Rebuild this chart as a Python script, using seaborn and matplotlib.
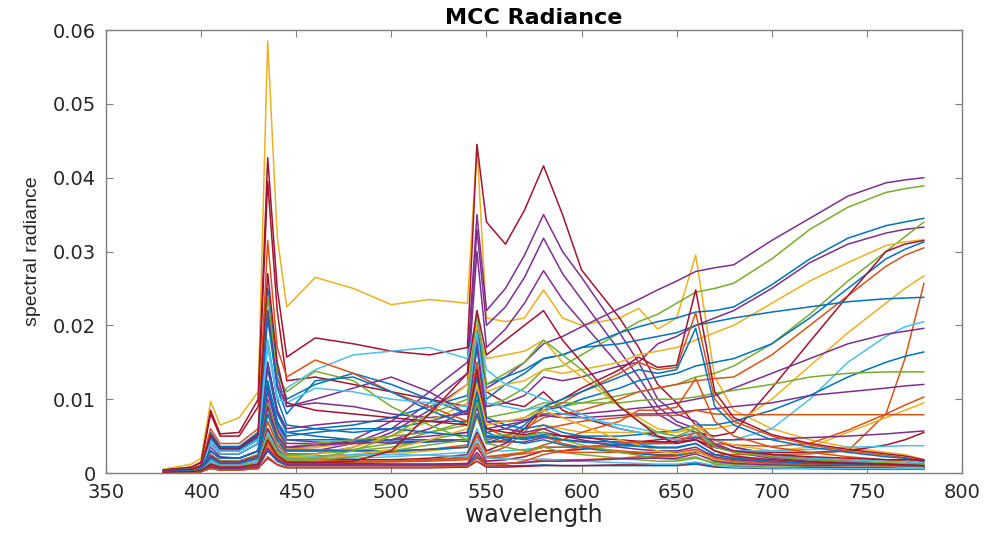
import matplotlib
matplotlib.use("Agg")
import matplotlib.pyplot as plt
import seaborn as sns
import pandas as pd
import numpy as np

# wavelength grid (nm) and spectral radiance curves, values in units of 1e-3
wavelength = [380, 395, 400, 405, 410, 420, 430, 435, 440, 445,
              460, 480, 500, 520, 540, 545, 550, 560, 570, 580,
              590, 600, 620, 630, 640, 650, 660, 670, 680, 700,
              720, 740, 760, 770, 780]

rad_01 = [0.5, 1.2, 2.0, 9.7, 6.5, 7.5, 11.0, 58.5, 32.0, 22.5, 26.5, 25.0, 22.8, 23.5, 23.0, 44.5, 21.0, 20.5, 21.0, 24.8, 21.0, 20.0, 21.0, 22.3, 19.5, 21.0, 29.5, 13.0, 8.5, 6.0, 4.5, 3.5, 2.8, 2.5, 1.8]
rad_02 = [0.4, 0.8, 1.5, 8.5, 5.3, 5.5, 10.0, 42.7, 25.0, 15.7, 18.3, 17.5, 16.5, 16.0, 17.0, 44.5, 34.0, 31.0, 35.6, 41.6, 35.0, 27.5, 21.0, 17.0, 12.0, 9.5, 6.5, 4.5, 3.5, 2.5, 2.0, 1.6, 1.3, 1.2, 1.0]
rad_03 = [0.4, 0.8, 1.4, 8.0, 5.0, 5.0, 9.0, 39.5, 22.0, 12.5, 13.0, 12.0, 11.0, 10.0, 9.0, 20.0, 11.0, 9.5, 9.0, 11.0, 8.5, 7.5, 6.0, 5.5, 5.0, 4.5, 5.0, 3.5, 3.0, 2.8, 2.8, 3.0, 3.8, 4.5, 5.5]
rad_04 = [0.2, 0.4, 0.6, 3.0, 2.0, 2.0, 3.0, 12.0, 6.0, 3.5, 3.5, 4.5, 7.0, 11.0, 15.0, 35.0, 22.0, 25.0, 29.5, 35.0, 30.0, 26.5, 19.0, 15.0, 10.0, 8.0, 7.0, 4.5, 3.5, 2.5, 2.0, 1.6, 1.3, 1.2, 1.0]
rad_05 = [0.2, 0.3, 0.5, 2.5, 1.6, 1.6, 2.5, 10.0, 5.0, 3.0, 3.0, 4.0, 6.0, 9.5, 13.5, 33.0, 20.0, 22.5, 26.5, 31.8, 27.0, 23.5, 16.5, 13.0, 9.0, 7.0, 6.0, 4.0, 3.0, 2.2, 1.8, 1.4, 1.2, 1.1, 0.9]
rad_06 = [0.2, 0.3, 0.5, 2.2, 1.4, 1.4, 2.2, 9.0, 4.5, 2.6, 2.6, 3.5, 5.5, 8.5, 12.0, 30.0, 17.0, 19.5, 23.0, 27.4, 23.5, 20.5, 14.5, 11.5, 8.0, 6.5, 5.5, 3.8, 2.8, 2.0, 1.6, 1.3, 1.1, 1.0, 0.8]
rad_07 = [0.2, 0.4, 0.7, 3.5, 2.2, 2.0, 3.0, 12.0, 7.0, 4.5, 4.2, 4.0, 4.5, 6.0, 8.5, 18.0, 11.5, 13.0, 15.0, 17.5, 18.5, 19.8, 22.3, 23.5, 24.8, 26.0, 27.3, 27.8, 28.2, 31.5, 34.5, 37.5, 39.3, 39.7, 40.0]
rad_08 = [0.2, 0.3, 0.5, 2.5, 1.5, 1.5, 2.2, 8.0, 4.5, 3.0, 3.0, 3.2, 4.0, 5.5, 7.0, 15.0, 9.0, 10.0, 11.5, 14.0, 14.5, 16.0, 19.0, 20.5, 21.5, 23.0, 24.5, 25.0, 25.7, 29.0, 33.0, 36.0, 38.0, 38.5, 38.9]
rad_09 = [0.3, 0.5, 0.9, 4.5, 3.0, 3.0, 4.5, 18.0, 10.0, 6.5, 6.0, 5.5, 6.0, 7.0, 8.5, 18.0, 10.0, 12.0, 13.5, 15.5, 16.0, 17.0, 19.0, 19.8, 20.5, 21.0, 21.8, 22.0, 22.5, 25.5, 29.0, 31.8, 33.5, 34.0, 34.5]
rad_10 = [0.3, 0.6, 1.0, 5.0, 3.3, 3.3, 5.5, 22.0, 13.0, 9.0, 9.5, 9.0, 8.0, 7.5, 8.0, 17.0, 9.0, 9.5, 10.5, 13.0, 12.5, 13.0, 14.5, 15.0, 17.5, 18.5, 20.0, 21.0, 22.0, 25.0, 28.5, 31.0, 32.5, 33.0, 33.3]
rad_11 = [0.2, 0.3, 0.4, 2.0, 1.3, 1.3, 2.0, 7.0, 4.0, 2.5, 2.6, 3.0, 3.5, 4.5, 5.5, 11.0, 6.5, 7.0, 7.5, 9.0, 9.0, 9.5, 10.5, 11.0, 11.5, 12.0, 13.0, 13.5, 14.5, 17.5, 21.5, 26.0, 30.0, 32.0, 34.0]
rad_12 = [0.2, 0.3, 0.5, 2.5, 1.6, 1.6, 2.5, 9.0, 5.0, 3.2, 3.5, 4.0, 5.0, 7.0, 9.5, 17.0, 11.0, 12.0, 12.5, 14.0, 13.5, 14.0, 15.0, 16.0, 16.5, 17.0, 18.0, 19.0, 20.0, 23.0, 26.0, 28.5, 30.8, 31.3, 31.6]
rad_13 = [0.3, 0.5, 0.8, 4.0, 2.6, 2.6, 4.0, 15.0, 8.5, 5.5, 5.0, 4.5, 4.0, 4.2, 4.5, 10.0, 5.5, 6.0, 7.0, 8.5, 9.0, 10.0, 11.5, 12.5, 13.0, 13.5, 14.5, 15.0, 15.5, 17.5, 21.0, 25.0, 29.0, 30.3, 31.3]
rad_14 = [0.2, 0.3, 0.5, 2.2, 1.4, 1.4, 2.0, 7.0, 3.8, 2.3, 2.3, 2.5, 2.8, 3.2, 3.8, 8.0, 4.5, 5.0, 6.0, 7.5, 8.0, 8.5, 10.0, 11.0, 11.5, 12.0, 12.5, 12.8, 13.0, 16.0, 20.0, 24.0, 28.0, 29.5, 30.5]
rad_15 = [0.1, 0.2, 0.3, 1.2, 0.8, 0.8, 1.0, 4.0, 2.2, 1.5, 1.4, 1.3, 1.2, 1.2, 1.3, 3.5, 1.6, 1.8, 2.2, 3.0, 3.0, 3.2, 3.8, 4.2, 4.5, 4.8, 5.5, 5.0, 5.5, 11.5, 17.8, 24.0, 30.0, 31.0, 31.5]
rad_16 = [0.2, 0.3, 0.4, 1.8, 1.2, 1.2, 1.8, 6.0, 3.5, 2.2, 2.2, 2.3, 2.5, 3.0, 3.5, 7.5, 4.0, 4.5, 5.0, 6.5, 6.0, 5.5, 5.5, 5.5, 5.5, 5.5, 6.0, 6.0, 6.5, 10.0, 14.5, 19.0, 23.0, 25.0, 26.7]
rad_17 = [0.1, 0.2, 0.3, 1.0, 0.7, 0.7, 0.9, 3.0, 1.8, 1.2, 1.2, 1.1, 1.0, 1.0, 1.0, 2.5, 1.2, 1.3, 1.4, 1.8, 1.8, 1.8, 2.0, 2.2, 2.2, 2.3, 2.8, 2.5, 2.5, 2.5, 2.6, 3.0, 8.0, 15.5, 25.7]
rad_18 = [0.3, 0.5, 0.8, 4.0, 2.6, 2.6, 4.0, 14.0, 8.0, 5.5, 6.0, 6.5, 7.5, 9.0, 10.5, 20.0, 12.0, 13.0, 14.0, 15.5, 16.0, 17.0, 17.5, 18.0, 18.5, 19.0, 20.0, 20.5, 21.0, 21.8, 22.5, 23.2, 23.6, 23.7, 23.8]
rad_19 = [0.2, 0.3, 0.4, 1.8, 1.2, 1.2, 1.8, 6.0, 3.5, 2.0, 2.0, 2.0, 2.2, 2.5, 2.8, 6.0, 3.0, 3.0, 3.2, 3.5, 3.5, 3.5, 3.5, 3.8, 4.0, 4.2, 5.0, 4.5, 4.5, 6.0, 10.0, 15.0, 18.5, 19.8, 20.5]
rad_20 = [0.2, 0.4, 0.6, 3.0, 2.0, 2.0, 3.0, 11.0, 6.0, 4.0, 4.0, 4.2, 4.5, 5.0, 5.5, 12.0, 6.0, 6.5, 7.0, 8.0, 8.0, 8.0, 8.5, 8.8, 9.0, 9.5, 10.0, 10.5, 11.5, 13.5, 15.5, 17.5, 18.8, 19.2, 19.6]
rad_21 = [0.2, 0.4, 0.6, 3.0, 2.0, 2.0, 3.0, 12.0, 6.5, 4.5, 4.5, 4.5, 4.5, 4.5, 4.5, 9.0, 4.8, 4.8, 4.8, 5.2, 5.0, 5.0, 5.0, 5.2, 5.5, 5.8, 6.5, 6.5, 7.0, 8.5, 10.5, 13.0, 15.0, 15.8, 16.4]
rad_22 = [0.2, 0.3, 0.5, 2.5, 1.6, 1.6, 2.5, 9.5, 5.5, 3.5, 4.0, 4.5, 5.0, 5.5, 6.5, 13.0, 7.5, 8.0, 8.5, 9.5, 9.5, 9.5, 9.5, 9.8, 10.0, 10.0, 10.3, 10.8, 11.2, 12.0, 13.0, 13.5, 13.7, 13.7, 13.7]
rad_23 = [0.3, 0.5, 0.8, 4.0, 2.6, 2.6, 4.0, 15.0, 8.5, 6.0, 6.5, 7.0, 7.0, 7.0, 7.0, 14.0, 7.0, 7.0, 7.2, 7.8, 7.5, 7.5, 7.8, 8.0, 8.0, 8.2, 8.5, 8.7, 9.0, 9.5, 10.5, 11.0, 11.5, 11.8, 12.0]
rad_24 = [0.1, 0.2, 0.3, 1.2, 0.8, 0.8, 1.2, 4.0, 2.2, 1.5, 1.5, 1.5, 1.6, 1.8, 2.0, 4.0, 2.2, 2.5, 2.8, 3.5, 3.5, 3.5, 3.8, 4.0, 4.0, 4.2, 4.8, 4.0, 3.8, 3.6, 4.0, 5.8, 8.0, 9.2, 10.3]
rad_25 = [0.1, 0.2, 0.3, 1.5, 1.0, 1.0, 1.5, 5.0, 3.0, 2.0, 2.5, 3.5, 5.0, 8.0, 12.0, 20.0, 15.5, 16.0, 16.5, 18.0, 15.0, 13.0, 9.0, 7.5, 6.0, 5.5, 6.5, 4.5, 3.8, 3.0, 3.5, 5.5, 7.5, 8.5, 9.5]
rad_26 = [0.2, 0.3, 0.5, 2.5, 1.6, 1.6, 2.4, 9.0, 5.0, 3.2, 3.2, 3.0, 3.0, 3.2, 3.5, 8.0, 4.0, 4.5, 5.0, 6.0, 6.5, 7.0, 7.5, 7.8, 7.8, 7.8, 8.5, 8.0, 7.9, 7.9, 7.9, 7.9, 7.9, 7.9, 7.9]
rad_27 = [0.2, 0.3, 0.5, 2.3, 1.5, 1.5, 2.3, 9.0, 5.0, 3.5, 3.8, 4.0, 4.2, 4.3, 4.3, 9.0, 4.3, 4.2, 4.2, 4.8, 4.5, 4.3, 4.2, 4.2, 4.2, 4.3, 4.8, 4.5, 4.5, 4.6, 4.8, 5.0, 5.3, 5.5, 5.7]
rad_28 = [0.3, 0.5, 0.8, 4.5, 3.0, 3.0, 4.5, 17.0, 10.0, 11.5, 14.0, 16.0, 16.5, 17.0, 15.5, 21.0, 14.0, 12.0, 11.0, 10.0, 9.0, 8.0, 6.0, 5.5, 4.8, 4.5, 4.5, 3.5, 3.0, 3.0, 3.2, 3.5, 3.6, 3.7, 3.7]
rad_29 = [0.1, 0.2, 0.3, 1.5, 1.0, 1.0, 1.5, 6.0, 3.2, 2.0, 2.0, 1.8, 1.8, 2.0, 2.5, 5.5, 3.0, 4.0, 6.0, 9.0, 10.0, 11.5, 14.0, 15.7, 14.3, 14.6, 24.8, 11.0, 7.5, 5.2, 4.0, 3.2, 2.6, 2.3, 1.8]
rad_30 = [0.1, 0.2, 0.3, 1.3, 0.9, 0.9, 1.3, 5.0, 2.8, 1.8, 1.8, 1.6, 1.6, 1.8, 2.2, 5.0, 2.6, 3.5, 5.5, 8.5, 9.5, 11.0, 13.5, 15.0, 14.0, 14.3, 21.7, 10.0, 7.0, 5.0, 3.8, 3.0, 2.4, 2.1, 1.6]
rad_31 = [0.2, 0.3, 0.5, 2.0, 1.3, 1.3, 2.0, 8.0, 4.5, 3.0, 3.0, 3.0, 3.0, 3.2, 3.5, 8.0, 4.0, 5.0, 6.5, 9.0, 10.0, 11.0, 13.0, 14.0, 13.5, 14.0, 19.6, 9.0, 6.5, 4.5, 3.5, 2.8, 2.2, 2.0, 1.5]
rad_32 = [0.1, 0.2, 0.3, 1.2, 0.8, 0.8, 1.2, 4.5, 2.5, 1.6, 1.6, 1.5, 1.5, 1.6, 1.8, 4.0, 2.0, 2.2, 2.8, 3.8, 4.5, 5.5, 7.0, 8.5, 8.5, 8.9, 12.8, 7.0, 5.0, 3.5, 2.8, 2.2, 1.8, 1.6, 1.3]
rad_33 = [0.3, 0.6, 1.0, 5.5, 3.6, 3.6, 5.5, 25.0, 14.0, 10.0, 12.0, 13.5, 12.0, 10.0, 8.0, 17.0, 7.5, 6.5, 6.0, 6.5, 5.5, 5.0, 4.0, 3.8, 3.5, 3.5, 4.0, 2.5, 2.0, 1.5, 1.2, 1.0, 0.9, 0.9, 0.8]
rad_34 = [0.3, 0.6, 1.1, 6.0, 4.0, 4.0, 6.0, 31.5, 17.0, 13.0, 15.3, 13.5, 11.0, 9.0, 7.0, 15.0, 6.0, 5.0, 4.5, 5.0, 4.0, 3.5, 3.0, 2.8, 2.5, 2.5, 3.0, 2.0, 1.6, 1.3, 1.1, 1.0, 0.9, 0.8, 0.8]
rad_35 = [0.3, 0.5, 0.9, 5.0, 3.3, 3.3, 5.0, 24.0, 13.0, 11.0, 13.8, 12.5, 9.0, 6.5, 4.5, 11.0, 4.0, 3.5, 3.0, 3.5, 2.8, 2.5, 2.0, 1.8, 1.6, 1.6, 2.0, 1.4, 1.2, 1.0, 0.9, 0.8, 0.8, 0.7, 0.7]
rad_36 = [0.3, 0.5, 0.9, 5.0, 3.3, 3.3, 5.0, 22.0, 12.0, 9.0, 10.0, 11.5, 13.0, 11.0, 8.0, 18.0, 7.0, 6.0, 5.5, 6.0, 5.0, 4.5, 3.5, 3.2, 3.0, 3.0, 3.5, 2.2, 1.8, 1.5, 1.3, 1.2, 1.1, 1.0, 1.0]
rad_37 = [0.3, 0.5, 0.9, 4.8, 3.2, 3.2, 4.8, 21.0, 11.5, 8.0, 12.5, 13.0, 11.0, 8.5, 6.5, 13.0, 5.5, 4.5, 4.0, 4.5, 3.8, 3.4, 2.8, 2.6, 2.4, 2.4, 3.0, 1.8, 1.5, 1.2, 1.0, 0.9, 0.8, 0.8, 0.7]
rad_38 = [0.2, 0.4, 0.7, 4.0, 2.6, 2.6, 4.0, 18.0, 10.0, 9.5, 11.5, 11.0, 10.0, 9.5, 9.0, 19.0, 9.5, 9.0, 8.5, 9.0, 8.0, 7.5, 6.5, 6.0, 5.5, 5.0, 5.5, 3.5, 3.0, 2.5, 2.0, 1.8, 1.6, 1.5, 1.4]
rad_39 = [0.3, 0.5, 0.9, 5.2, 3.4, 3.4, 5.2, 27.0, 15.0, 9.5, 8.5, 8.0, 7.5, 7.0, 6.5, 14.0, 6.0, 5.5, 5.2, 5.5, 5.0, 4.8, 4.5, 4.3, 4.2, 4.2, 4.5, 3.5, 3.0, 2.5, 2.2, 2.0, 1.8, 1.8, 1.7]
rad_40 = [0.1, 0.2, 0.3, 1.0, 0.7, 0.7, 1.0, 3.5, 2.0, 1.3, 1.4, 1.5, 1.6, 1.8, 2.0, 4.0, 2.2, 2.4, 2.6, 3.0, 2.8, 2.8, 2.8, 2.8, 2.8, 2.8, 3.2, 2.0, 1.6, 1.3, 1.2, 1.1, 1.1, 1.0, 1.0]
rad_41 = [0.1, 0.2, 0.3, 1.2, 0.8, 0.8, 1.2, 4.5, 2.5, 1.6, 1.8, 2.2, 3.0, 3.8, 4.5, 9.5, 5.0, 5.2, 5.0, 5.5, 4.5, 3.8, 2.8, 2.4, 2.0, 1.8, 2.2, 1.2, 1.0, 0.8, 0.7, 0.7, 0.6, 0.6, 0.6]
rad_42 = [0.1, 0.1, 0.2, 0.8, 0.5, 0.5, 0.8, 3.0, 1.6, 1.0, 1.0, 1.0, 1.0, 1.0, 1.0, 2.2, 1.0, 1.0, 1.0, 1.1, 1.0, 1.0, 1.0, 1.0, 1.0, 1.0, 1.2, 0.8, 0.7, 0.6, 0.6, 0.5, 0.5, 0.5, 0.5]
rad_43 = [0.1, 0.1, 0.2, 0.6, 0.4, 0.4, 0.6, 2.0, 1.1, 0.7, 0.7, 0.7, 0.7, 0.7, 0.8, 1.6, 0.8, 0.8, 0.9, 1.0, 1.0, 1.0, 1.1, 1.1, 1.1, 1.1, 1.4, 0.9, 0.8, 0.7, 0.7, 0.7, 0.7, 0.7, 0.7]
rad_44 = [0.1, 0.2, 0.3, 1.4, 0.9, 0.9, 1.4, 5.0, 2.8, 1.8, 2.0, 2.5, 3.2, 4.5, 6.0, 12.0, 6.5, 7.0, 7.5, 8.5, 7.5, 6.5, 4.5, 3.8, 3.0, 2.6, 3.0, 1.8, 1.4, 1.1, 1.0, 0.9, 0.9, 0.8, 0.8]
rad_45 = [0.1, 0.2, 0.3, 1.5, 1.0, 1.0, 1.5, 5.5, 3.0, 2.0, 2.2, 2.5, 2.5, 2.4, 2.2, 4.5, 2.0, 1.9, 1.8, 1.9, 1.7, 1.6, 1.4, 1.3, 1.2, 1.2, 1.5, 1.0, 0.8, 0.7, 0.6, 0.6, 0.6, 0.6, 0.6]
rad_46 = [0.1, 0.1, 0.2, 0.9, 0.6, 0.6, 0.9, 3.3, 1.8, 1.2, 1.2, 1.2, 1.2, 1.2, 1.2, 2.8, 1.3, 1.3, 1.4, 1.6, 1.6, 1.7, 1.9, 2.0, 2.0, 2.0, 2.6, 1.6, 1.3, 1.1, 1.0, 1.0, 1.0, 1.0, 1.0]
rad_47 = [0.1, 0.1, 0.2, 0.6, 0.4, 0.4, 0.6, 2.2, 1.2, 0.8, 0.8, 0.8, 0.8, 0.8, 0.9, 2.0, 1.0, 1.2, 1.6, 2.5, 3.0, 3.5, 4.0, 4.2, 4.0, 4.0, 5.5, 3.0, 2.2, 1.6, 1.3, 1.1, 1.0, 1.0, 0.9]
rad_48 = [0.2, 0.3, 0.6, 3.0, 2.0, 2.0, 3.0, 12.5, 7.0, 5.0, 5.5, 6.0, 6.0, 5.5, 5.0, 11.0, 5.0, 4.8, 4.6, 5.0, 4.5, 4.2, 3.8, 3.6, 3.4, 3.4, 4.0, 2.5, 2.0, 1.6, 1.3, 1.2, 1.1, 1.0, 1.0]
rad_49 = [0.1, 0.2, 0.3, 1.3, 0.9, 0.9, 1.3, 5.0, 2.8, 1.8, 2.0, 3.0, 5.0, 8.0, 10.0, 22.0, 12.0, 13.5, 15.0, 18.0, 16.0, 14.0, 9.0, 7.0, 5.5, 5.0, 6.0, 3.5, 2.8, 2.2, 1.8, 1.6, 1.4, 1.3, 1.2]
rad_50 = [0.1, 0.2, 0.3, 1.2, 0.8, 0.8, 1.2, 4.5, 2.4, 1.5, 1.4, 1.6, 3.0, 8.0, 13.5, 22.0, 16.0, 18.0, 20.0, 22.0, 18.0, 15.0, 9.0, 7.0, 5.0, 4.0, 4.5, 3.0, 2.3, 1.8, 1.5, 1.3, 1.2, 1.1, 1.0]

curves = [rad_01, rad_02, rad_03, rad_04, rad_05, rad_06, rad_07, rad_08, rad_09, rad_10,
          rad_11, rad_12, rad_13, rad_14, rad_15, rad_16, rad_17, rad_18, rad_19, rad_20,
          rad_21, rad_22, rad_23, rad_24, rad_25, rad_26, rad_27, rad_28, rad_29, rad_30,
          rad_31, rad_32, rad_33, rad_34, rad_35, rad_36, rad_37, rad_38, rad_39, rad_40,
          rad_41, rad_42, rad_43, rad_44, rad_45, rad_46, rad_47, rad_48, rad_49, rad_50]

# MATLAB default line colours
C_BLUE, C_ORANGE, C_YELLOW = "#0072BD", "#D95319", "#EDB120"
C_PURPLE, C_GREEN, C_CYAN, C_MAROON = "#7E2F8E", "#77AC30", "#4DBEEE", "#A2142F"

curve_colors = [C_YELLOW, C_MAROON, C_MAROON, C_PURPLE, C_PURPLE, C_PURPLE, C_PURPLE, C_GREEN, C_BLUE, C_PURPLE,
                C_GREEN, C_YELLOW, C_BLUE, C_ORANGE, C_MAROON, C_YELLOW, C_ORANGE, C_BLUE, C_CYAN, C_PURPLE,
                C_BLUE, C_GREEN, C_PURPLE, C_ORANGE, C_YELLOW, C_ORANGE, C_PURPLE, C_CYAN, C_MAROON, C_ORANGE,
                C_BLUE, C_ORANGE, C_BLUE, C_ORANGE, C_GREEN, C_PURPLE, C_BLUE, C_CYAN, C_MAROON, C_ORANGE,
                C_GREEN, C_BLUE, C_MAROON, C_YELLOW, C_CYAN, C_PURPLE, C_ORANGE, C_BLUE, C_GREEN, C_MAROON]

frames = []
for i, vals in enumerate(curves):
    frames.append(pd.DataFrame({
        "wavelength": wavelength,
        "radiance": np.array(vals) / 1000.0,
        "curve": f"c{i:02d}",
    }))
df = pd.concat(frames, ignore_index=True)
palette = {f"c{i:02d}": c for i, c in enumerate(curve_colors)}

sns.set_style("ticks")
plt.rcParams["font.family"] = ["DejaVu Sans"]

fig = plt.figure(figsize=(9.87, 5.34), dpi=100)
ax = fig.add_axes([0.1074, 0.1142, 0.8673, 0.8296])

sns.lineplot(data=df, x="wavelength", y="radiance", hue="curve", palette=palette,
             estimator=None, sort=False, legend=False, linewidth=1.1, ax=ax)

ax.set_xlim(350, 800)
ax.set_ylim(0, 0.06)
ax.set_xticks([350, 400, 450, 500, 550, 600, 650, 700, 750, 800])
ax.set_yticks([0, 0.01, 0.02, 0.03, 0.04, 0.05, 0.06])
ax.set_yticklabels(["0", "0.01", "0.02", "0.03", "0.04", "0.05", "0.06"])

for s in ax.spines.values():
    s.set_visible(True)
    s.set_color("#7f7f7f")
    s.set_linewidth(1.0)
ax.tick_params(direction="in", length=5, width=0.8, color="#7f7f7f",
               top=True, right=True, labelsize=14, labelcolor="#262626")
ax.tick_params(axis="x", pad=7)
ax.tick_params(axis="y", pad=7)

ax.set_title("MCC Radiance", fontsize=16, fontweight="bold", color="black", pad=4)
ax.set_xlabel("wavelength", fontsize=17, color="#262626", labelpad=1)
ax.set_ylabel("spectral radiance", fontsize=14, color="#262626", labelpad=9,
              family=["Liberation Sans", "DejaVu Sans"])

fig.savefig("out.png", dpi=100)
plt.close(fig)
